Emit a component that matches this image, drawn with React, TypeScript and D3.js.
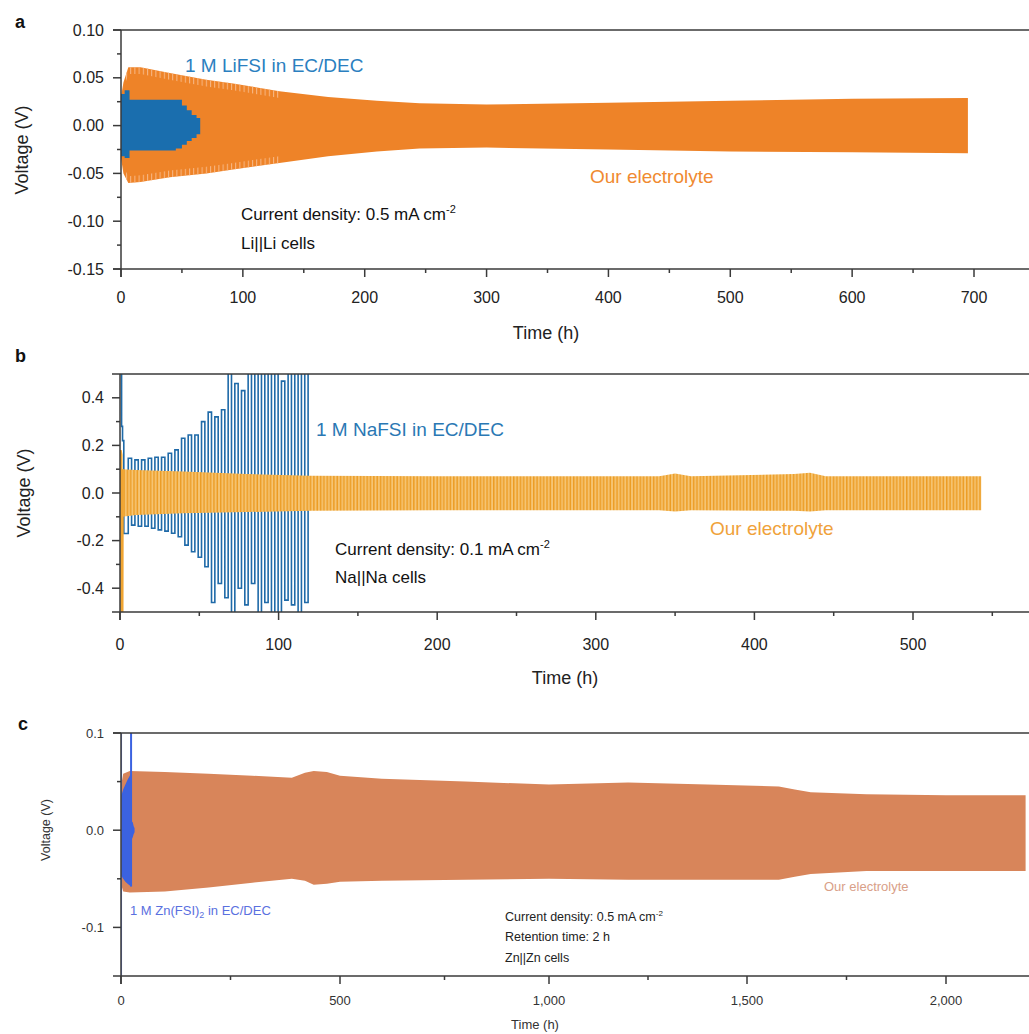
import React from "react";
import * as d3 from "d3";

// ---------- panel a : Li||Li ----------
const liXTicks = [0, 100, 200, 300, 400, 500, 600, 700];
const liXMinor = [50, 150, 250, 350, 450, 550, 650];
const liYTicks = [0.1, 0.05, 0, -0.05, -0.1, -0.15];
const liYLabels = ["0.10", "0.05", "0.00", "-0.05", "-0.10", "-0.15"];
const liYMinor = [0.075, 0.025, -0.025, -0.075, -0.125];

// envelope of our electrolyte (h, V)
const liOurT = [0, 2, 6, 16, 40, 70, 92, 130, 170, 210, 245, 300, 400, 500, 600, 695];
const liOurUp = [0.03, 0.045, 0.061, 0.061, 0.055, 0.048, 0.044, 0.036, 0.03, 0.026, 0.0235, 0.022, 0.024, 0.026, 0.028, 0.029];
const liOurLo = [-0.034, -0.05, -0.06, -0.059, -0.054, -0.05, -0.046, -0.039, -0.032, -0.027, -0.024, -0.023, -0.025, -0.027, -0.028, -0.029];
const liStripeEnd = 8; // first points of the envelope that show the cycle stripes at the edges

// envelope of 1 M LiFSI in EC/DEC
const liRefT = [0, 3, 7, 45, 50, 54, 58, 62, 65];
const liRefUp = [0.033, 0.037, 0.027, 0.027, 0.021, 0.016, 0.011, 0.008, 0.008];
const liRefLo = [-0.032, -0.034, -0.026, -0.024, -0.02, -0.016, -0.013, -0.009, -0.008];

// ---------- panel b : Na||Na ----------
const naXTicks = [0, 100, 200, 300, 400, 500];
const naXMinor = [50, 150, 250, 350, 450, 550];
const naYTicks = [0.4, 0.2, 0, -0.2, -0.4];
const naYLabels = ["0.4", "0.2", "0.0", "-0.2", "-0.4"];
const naYMinor = [0.3, 0.1, -0.1, -0.3];

// 1 M NaFSI: start of each charge / discharge half cycle and its plateau
const naHeadT = [0.3, 1.0, 1.6, 2.4];
const naHeadV = [0.6, 0.28, 0.22, -0.17];
const naUpT = [5.2, 9.4, 13.6, 17.8, 22.0, 26.2, 30.4, 34.6, 38.8, 43.0, 47.2, 51.4, 55.6, 59.8, 64.0, 68.2, 72.4, 76.6, 80.8, 85.0, 89.2, 93.4, 97.6, 101.8, 106.0, 110.2, 114.4];
const naDnT = [7.3, 11.5, 15.7, 19.9, 24.1, 28.3, 32.5, 36.7, 40.9, 45.1, 49.3, 53.5, 57.7, 61.9, 66.1, 70.3, 74.5, 78.7, 82.9, 87.1, 91.3, 95.5, 99.7, 103.9, 108.1, 112.3, 116.5];
const naUpV = [0.146, 0.139, 0.139, 0.146, 0.15, 0.15, 0.167, 0.181, 0.23, 0.244, 0.244, 0.3, 0.34, 0.32, 0.35, 0.6, 0.46, 0.43, 0.6, 0.6, 0.6, 0.6, 0.6, 0.47, 0.6, 0.6, 0.6];
const naDnV = [-0.135, -0.14, -0.14, -0.148, -0.155, -0.16, -0.169, -0.184, -0.219, -0.247, -0.27, -0.31, -0.46, -0.38, -0.44, -0.6, -0.4, -0.47, -0.38, -0.6, -0.46, -0.6, -0.6, -0.45, -0.47, -0.6, -0.46];
const naEndT = 118.6;

// our electrolyte (Na): first spike, then envelope of the cycling
const naOurHeadT = [0, 0.3, 0.8, 1.0, 1.4, 1.6];
const naOurHeadV = [0.0, 0.18, 0.16, -0.6, -0.6, 0.1];
const naOurT = [1.5, 10, 40, 80, 120, 200, 340, 350, 360, 425, 435, 445, 543];
const naOurUp = [0.1, 0.097, 0.09, 0.08, 0.072, 0.07, 0.07, 0.082, 0.07, 0.08, 0.085, 0.07, 0.07];
const naOurLo = [-0.1, -0.092, -0.085, -0.08, -0.075, -0.073, -0.073, -0.078, -0.073, -0.075, -0.078, -0.073, -0.073];
const naCycle = 4.2; // h per cycle

// ---------- panel c : Zn||Zn ----------
const znXTicks = [0, 500, 1000, 1500, 2000];
const znXLabels = ["0", "500", "1,000", "1,500", "2,000"];
const znXMinor = [250, 750, 1250, 1750];
const znYTicks = [0.1, 0, -0.1];
const znYLabels = ["0.1", "0.0", "-0.1"];
const znYMinor = [0.05, -0.05];

const znOurT = [0, 5, 20, 100, 200, 300, 390, 420, 440, 470, 500, 600, 800, 1000, 1200, 1400, 1580, 1620, 1660, 1800, 2000, 2200];
const znOurUp = [0.045, 0.058, 0.061, 0.06, 0.058, 0.056, 0.054, 0.059, 0.061, 0.06, 0.056, 0.053, 0.05, 0.047, 0.049, 0.047, 0.045, 0.042, 0.039, 0.037, 0.036, 0.036];
const znOurLo = [-0.055, -0.063, -0.064, -0.063, -0.059, -0.054, -0.05, -0.052, -0.056, -0.055, -0.053, -0.052, -0.051, -0.05, -0.051, -0.051, -0.051, -0.048, -0.045, -0.042, -0.042, -0.042];

const znRefT = [1, 5, 10, 15, 20, 22];
const znRefUp = [0.036, 0.042, 0.047, 0.052, 0.056, 0.058];
const znRefLo = [-0.047, -0.05, -0.053, -0.055, -0.057, -0.058];
const znBlipT = [23, 25, 27, 29, 31];
const znBlipUp = [0.005, 0.009, 0.008, 0.004, 0.002];
const znBlipLo = [-0.005, -0.009, -0.007, -0.004, -0.002];
const znSpikeT = 23;
const znSpikeV = [0.1, -0.058];
const znThinT = 1;
const znThinV = [0.1, -0.15];

const W = 1029;
const H = 1034;

const xA = d3.scaleLinear().domain([0, 700]).range([121, 974]);
const yA = d3.scaleLinear().domain([-0.15, 0.1]).range([269, 30]);
const xB = d3.scaleLinear().domain([0, 500]).range([120, 913]);
const yB = d3.scaleLinear().domain([-0.5, 0.5]).range([612, 374]);
const xC = d3.scaleLinear().domain([0, 500, 1000, 1500, 2000]).range([121, 340, 549, 747, 946]);
const yC = d3.scaleLinear().domain([-0.15, 0.1]).range([976, 733]);

type Sc = d3.ScaleLinear<number, number>;

function band(T: number[], up: number[], lo: number[], x: Sc, y: Sc, curve: d3.CurveFactory = d3.curveLinear) {
  return (
    d3
      .area<number>()
      .x((t) => x(t))
      .y1((_, i) => y(up[i]))
      .y0((_, i) => y(lo[i]))
      .curve(curve)(T) || ""
  );
}

function line(T: number[], V: number[], x: Sc, y: Sc, curve: d3.CurveFactory = d3.curveLinear) {
  return (
    d3
      .line<number>()
      .x((t) => x(t))
      .y((_, i) => y(V[i]))
      .curve(curve)(T) || ""
  );
}

const axisCol = "#3a3a3a";

function Axes(p: {
  x: Sc; y: Sc; xt: number[]; xm: number[]; xl: string[]; yt: number[]; ym: number[]; yl: string[];
  fs: number; lx: number; ly: number; col: string; sw: number; maj: number; min: number;
}) {
  const [x0] = p.x.range();
  const [yb, yt] = p.y.range();
  return (
    <g fontFamily="Arial, 'Liberation Sans', sans-serif" fill={p.col}>
      <line x1={x0 - p.maj} x2={W} y1={yt} y2={yt} stroke={axisCol} strokeWidth={p.sw} />
      <line x1={x0 - p.maj} x2={W} y1={yb} y2={yb} stroke={axisCol} strokeWidth={p.sw} />
      <line x1={x0} x2={x0} y1={yt} y2={yb + p.maj} stroke={axisCol} strokeWidth={p.sw} />
      {p.yt.map((v, i) => (
        <g key={"y" + i}>
          <line x1={x0 - p.maj} x2={x0} y1={p.y(v)} y2={p.y(v)} stroke={axisCol} strokeWidth={p.sw} />
          <text x={p.lx} y={p.y(v)} dy="0.35em" textAnchor="end" fontSize={p.fs}>{p.yl[i]}</text>
        </g>
      ))}
      {p.ym.map((v, i) => (
        <line key={"ym" + i} x1={x0 - p.min} x2={x0} y1={p.y(v)} y2={p.y(v)} stroke={axisCol} strokeWidth={p.sw} />
      ))}
      {p.xt.map((v, i) => (
        <g key={"x" + i}>
          <line x1={p.x(v)} x2={p.x(v)} y1={yb} y2={yb + p.maj} stroke={axisCol} strokeWidth={p.sw} />
          <text x={p.x(v)} y={p.ly} textAnchor="middle" fontSize={p.fs}>{p.xl[i]}</text>
        </g>
      ))}
      {p.xm.map((v, i) => (
        <line key={"xm" + i} x1={p.x(v)} x2={p.x(v)} y1={yb} y2={yb + p.min} stroke={axisCol} strokeWidth={p.sw} />
      ))}
    </g>
  );
}

export default function App() {
  // build the stepped trace of 1 M NaFSI
  const naT: number[] = [...naHeadT];
  const naV: number[] = [...naHeadV];
  naUpT.forEach((t, i) => {
    naT.push(t, naDnT[i]);
    naV.push(naUpV[i], naDnV[i]);
  });
  naT.push(naEndT);
  naV.push(0.6);

  const stripeW = xB(naCycle) - xB(0);
  const font = "Arial, 'Liberation Sans', sans-serif";

  // thin rims of the Li envelope where the individual cycles show as light stripes
  const rimT = liOurT.slice(1, liStripeEnd);
  const rimUp = liOurUp.slice(1, liStripeEnd);
  const rimLo = liOurLo.slice(1, liStripeEnd);
  const rimUpIn = rimUp.map((v) => v - 0.007);
  const rimLoIn = rimLo.map((v) => v + 0.007);

  return (
    <svg width={W} height={H} style={{ position: "absolute", left: 0, top: 0, background: "#fff" }}>
      <defs>
        <clipPath id="clipA"><rect x={121} y={30} width={W - 121} height={239} /></clipPath>
        <clipPath id="clipB"><rect x={120} y={374} width={W - 120} height={238} /></clipPath>
        <clipPath id="clipC"><rect x={121} y={733} width={W - 121} height={243} /></clipPath>
        <pattern id="naStripes" patternUnits="userSpaceOnUse" width={stripeW} height={20} x={xB(0)}>
          <rect width={stripeW} height={20} fill="#f6c574" />
          <rect x={0} width={1.5} height={20} fill="#ec9c24" />
          <rect x={stripeW / 2} width={1.5} height={20} fill="#ec9c24" />
        </pattern>
        <pattern id="liStripes" patternUnits="userSpaceOnUse" width={4.2} height={20}>
          <rect x={0} width={1} height={20} fill="#f7b886" />
        </pattern>
      </defs>

      {/* ---------- a ---------- */}
      <g clipPath="url(#clipA)">
        <path d={band(liOurT, liOurUp, liOurLo, xA, yA)} fill="#ee8328" />
        <path d={band(rimT, rimUp, rimUpIn, xA, yA)} fill="url(#liStripes)" />
        <path d={band(rimT, rimLoIn, rimLo, xA, yA)} fill="url(#liStripes)" />
        <path d={band(liRefT, liRefUp, liRefLo, xA, yA, d3.curveStepAfter)} fill="#1a6eae" />
      </g>
      <Axes x={xA} y={yA} xt={liXTicks} xm={liXMinor} xl={liXTicks.map(String)} yt={liYTicks} ym={liYMinor} yl={liYLabels}
        fs={16} lx={104} ly={303} col="#222" sw={1.5} maj={8} min={4} />
      <g fontFamily={font}>
        <text x={15} y={28} fontSize={18} fontWeight="bold" fill="#111">a</text>
        <text transform="translate(28,150) rotate(-90)" textAnchor="middle" fontSize={18} fill="#222">Voltage (V)</text>
        <text x={546} y={339} textAnchor="middle" fontSize={18} fill="#222">Time (h)</text>
        <text x={185} y={72} fontSize={19} fill="#2b7fc0">1 M LiFSI in EC/DEC</text>
        <text x={590} y={183} fontSize={19} fill="#f08a30">Our electrolyte</text>
        <text x={241} y={220} fontSize={17} fill="#111">Current density: 0.5 mA cm<tspan dy={-7} fontSize={11}>-2</tspan></text>
        <text x={241} y={249} fontSize={17} fill="#111">Li||Li cells</text>
      </g>

      {/* ---------- b ---------- */}
      <g clipPath="url(#clipB)">
        <path d={line(naT, naV, xB, yB, d3.curveStepAfter)} fill="none" stroke="#1f6aa8" strokeWidth={1.6} />
        <path d={band(naOurT, naOurUp, naOurLo, xB, yB)} fill="url(#naStripes)" />
        <path d={line(naOurHeadT, naOurHeadV, xB, yB)} fill="none" stroke="#f0a532" strokeWidth={2.5} />
      </g>
      <Axes x={xB} y={yB} xt={naXTicks} xm={naXMinor} xl={naXTicks.map(String)} yt={naYTicks} ym={naYMinor} yl={naYLabels}
        fs={16} lx={104} ly={650} col="#222" sw={1.5} maj={8} min={4} />
      <g fontFamily={font}>
        <text x={15} y={362} fontSize={18} fontWeight="bold" fill="#111">b</text>
        <text transform="translate(30,493) rotate(-90)" textAnchor="middle" fontSize={18} fill="#222">Voltage (V)</text>
        <text x={565} y={684} textAnchor="middle" fontSize={18} fill="#222">Time (h)</text>
        <text x={316} y={436} fontSize={19} fill="#2a78b4">1 M NaFSI in EC/DEC</text>
        <text x={710} y={535} fontSize={19} fill="#f0a23a">Our electrolyte</text>
        <text x={335} y={555} fontSize={17} fill="#111">Current density: 0.1 mA cm<tspan dy={-7} fontSize={11}>-2</tspan></text>
        <text x={335} y={583} fontSize={17} fill="#111">Na||Na cells</text>
      </g>

      {/* ---------- c ---------- */}
      <g clipPath="url(#clipC)">
        <path d={band(znOurT, znOurUp, znOurLo, xC, yC)} fill="#d8855a" />
        <path d={line([znThinT, znThinT], znThinV, xC, yC)} stroke="#7088e2" strokeWidth={1.2} />
        <path d={band(znRefT, znRefUp, znRefLo, xC, yC)} fill="#3b62e0" />
        <path d={band(znBlipT, znBlipUp, znBlipLo, xC, yC)} fill="#3b62e0" />
        <path d={line([znSpikeT, znSpikeT], znSpikeV, xC, yC)} stroke="#3b62e0" strokeWidth={2} />
      </g>
      <Axes x={xC} y={yC} xt={znXTicks} xm={znXMinor} xl={znXLabels} yt={znYTicks} ym={znYMinor} yl={znYLabels}
        fs={13} lx={104} ly={1005} col="#333" sw={1.5} maj={8} min={4} />
      <g fontFamily={font}>
        <text x={18} y={730} fontSize={18} fontWeight="bold" fill="#111">c</text>
        <text transform="translate(50,830) rotate(-90)" textAnchor="middle" fontSize={12.5} fill="#333">Voltage (V)</text>
        <text x={535} y={1029} textAnchor="middle" fontSize={13} fill="#333">Time (h)</text>
        <text x={130} y={915} fontSize={13} fill="#5a70e0">1 M Zn(FSI)<tspan dy={3} fontSize={9}>2</tspan><tspan dy={-3}> in EC/DEC</tspan></text>
        <text x={824} y={891} fontSize={13} fill="#d9a088">Our electrolyte</text>
        <text x={505} y={921} fontSize={12.5} fill="#222">Current density: 0.5 mA cm<tspan dy={-5} fontSize={8}>-2</tspan></text>
        <text x={505} y={941} fontSize={12.5} fill="#222">Retention time: 2 h</text>
        <text x={505} y={962} fontSize={12.5} fill="#222">Zn||Zn cells</text>
      </g>
    </svg>
  );
}
